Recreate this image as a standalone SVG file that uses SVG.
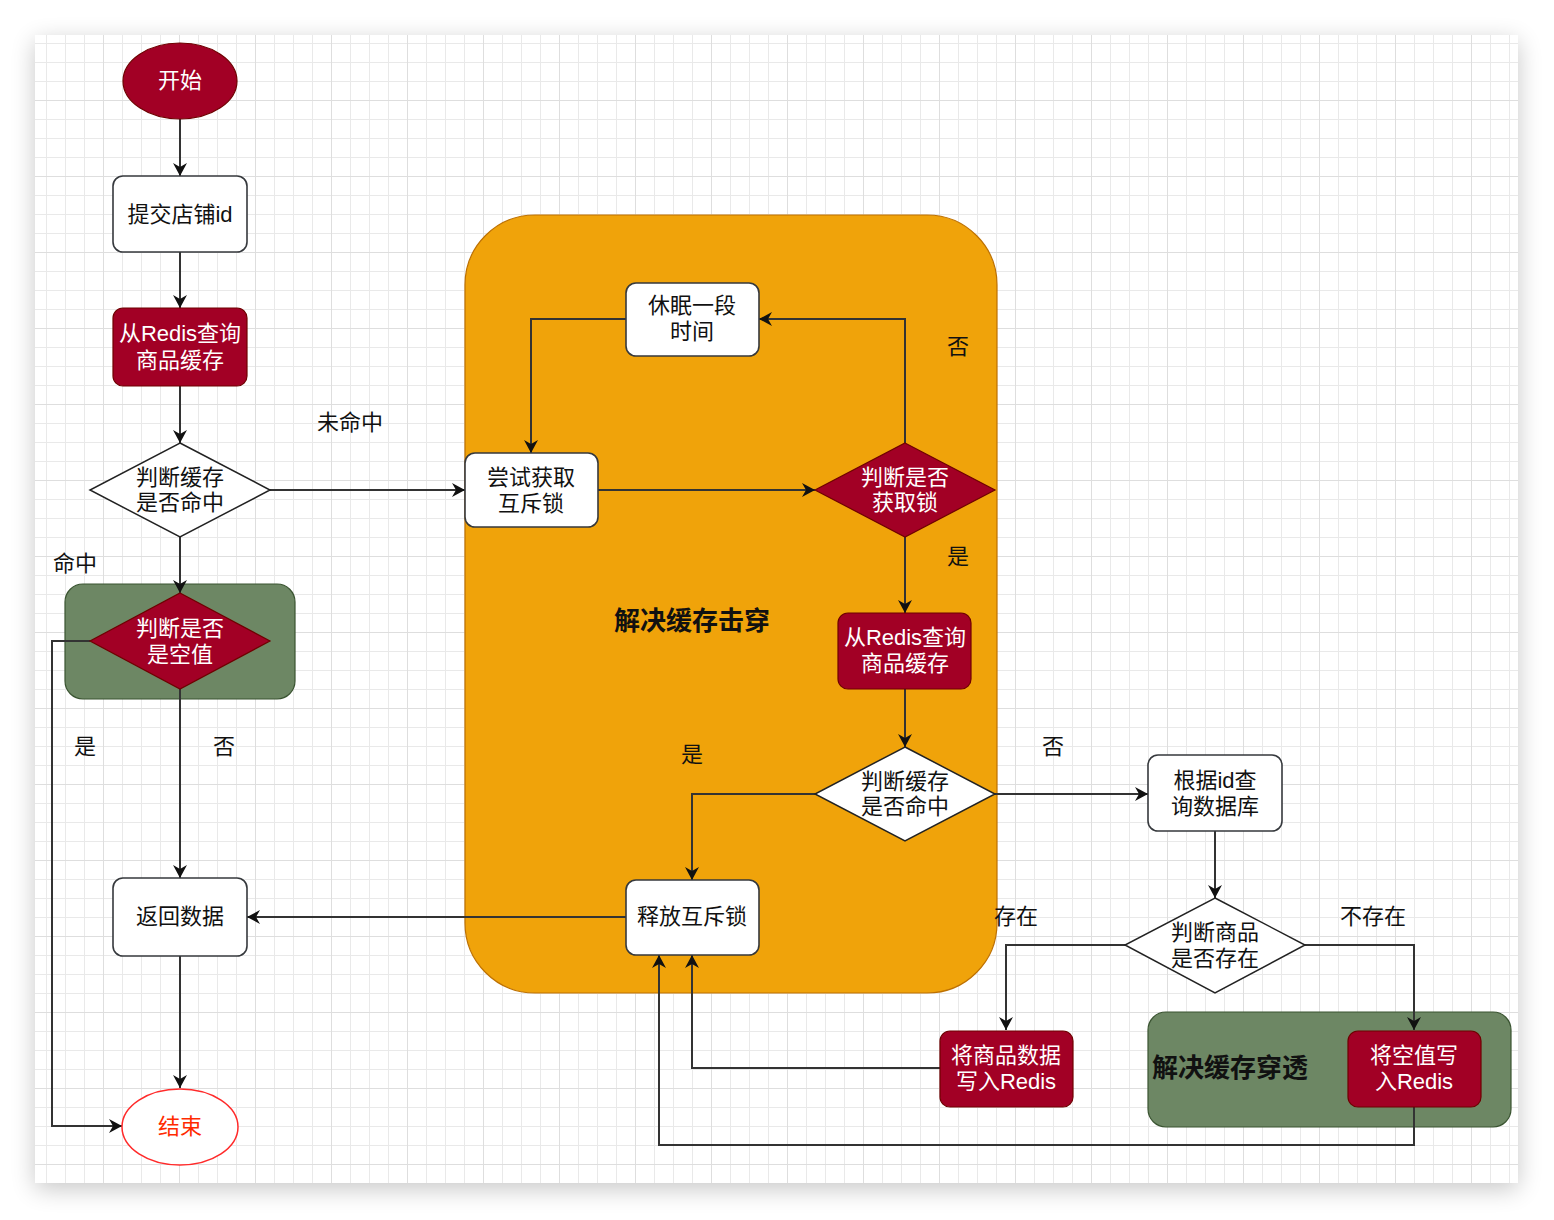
<svg xmlns="http://www.w3.org/2000/svg" width="1554" height="1220" viewBox="0 0 1554 1220">
<style>
text{font-family:"Liberation Sans","Noto Sans CJK SC",sans-serif;font-size:22px;text-anchor:middle;dominant-baseline:central;fill:#111}
.w{fill:#fff}
.b{font-weight:bold;font-size:26px}
.red{fill:#a20025;stroke:#6f0000;stroke-width:1.2}
.wb{fill:#fff;stroke:#36393d;stroke-width:1.6}
.grn{fill:#6d8764;stroke:#3a5431;stroke-width:1.2}
.org{fill:#f0a30a;stroke:#bd7000;stroke-width:1.2}
.e{fill:none;stroke:#333;stroke-width:2;marker-end:url(#arr)}
</style>
<defs>
<marker id="arr" markerWidth="16" markerHeight="16" refX="13" refY="8" orient="auto" markerUnits="userSpaceOnUse" viewBox="0 0 16 16"><path d="M0,1 L13,8 L0,15 L4,8 Z" fill="#111"/></marker>
<pattern id="minor" width="19" height="19" patternUnits="userSpaceOnUse" x="8" y="5"><path d="M0.5,0 V19 M0,0.5 H19" stroke="#e9e9e9" stroke-width="1" fill="none"/></pattern>
<pattern id="major" width="76" height="76" patternUnits="userSpaceOnUse" x="27" y="24"><path d="M0.5,0 V76 M0,0.5 H76" stroke="#dedede" stroke-width="1" fill="none"/></pattern>
<filter id="sh" x="-10%" y="-10%" width="120%" height="120%"><feGaussianBlur stdDeviation="12"/></filter>
</defs>
<rect width="1554" height="1220" fill="#fff"/>
<rect x="35" y="41" width="1483" height="1148" fill="#000" opacity="0.22" filter="url(#sh)"/>
<rect x="35" y="35" width="1483" height="1148" fill="#fff"/>
<rect x="35" y="35" width="1483" height="1148" fill="url(#minor)"/>
<rect x="35" y="35" width="1483" height="1148" fill="url(#major)"/>

<g id="container-jichuan"><rect class="org" x="465" y="215" width="532" height="778" rx="70"/><text class="b" x="692" y="621">解决缓存击穿</text></g>
<g id="container-kongzhi"><rect class="grn" x="65" y="584" width="230" height="115" rx="18"/></g>
<g id="container-chuantou"><rect class="grn" x="1148" y="1012" width="363" height="115" rx="18"/><text class="b" x="1152" y="1068" style="text-anchor:start">解决缓存穿透</text></g>

<g id="edges">
<path class="e" d="M180,119 V176"/>
<path class="e" d="M180,252 V308"/>
<path class="e" d="M180,386 V443"/>
<path class="e" d="M270,490 H465"/>
<path class="e" d="M180,537 V593"/>
<path class="e" d="M180,689 V878"/>
<path class="e" d="M90,641 H52 V1126 H122"/>
<path class="e" d="M180,956 V1088"/>
<path class="e" d="M598,490 H815"/>
<path class="e" d="M905,443 V319 H759"/>
<path class="e" d="M626,319 H531 V453"/>
<path class="e" d="M905,537 V613"/>
<path class="e" d="M905,689 V747"/>
<path class="e" d="M815,794 H692 V880"/>
<path class="e" d="M995,794 H1148"/>
<path class="e" d="M626,917 H247"/>
<path class="e" d="M1215,831 V898"/>
<path class="e" d="M1125,945 H1006 V1030"/>
<path class="e" d="M1305,945 H1414 V1030"/>
<path class="e" d="M940,1068 H692 V955"/>
<path class="e" d="M1414,1107 V1145 H659 V955"/>
</g>

<g id="labels">
<text x="350" y="422">未命中</text>
<text x="75" y="563">命中</text>
<text x="85" y="746">是</text>
<text x="224" y="746">否</text>
<text x="958" y="346">否</text>
<text x="958" y="556">是</text>
<text x="692" y="754">是</text>
<text x="1053" y="746">否</text>
<text x="1016" y="916">存在</text>
<text x="1373" y="916">不存在</text>
</g>

<g id="start"><ellipse class="red" cx="180" cy="81" rx="57" ry="38"/><text class="w" x="180" y="80">开始</text></g>
<g id="submit"><rect class="wb" x="113" y="176" width="134" height="76" rx="10"/><text x="180" y="214">提交店铺id</text></g>
<g id="redis1"><rect class="red" x="113" y="308" width="134" height="78" rx="10"/><text class="w" x="180" y="333">从Redis查询</text><text class="w" x="180" y="360">商品缓存</text></g>
<g id="hit1"><path d="M180,443 L270,490 L180,537 L90,490 Z" fill="#fff" stroke="#222" stroke-width="1.5"/><text x="180" y="477">判断缓存</text><text x="180" y="502">是否命中</text></g>
<g id="isnull"><path class="red" d="M180,593 L270,641 L180,689 L90,641 Z"/><text class="w" x="180" y="628">判断是否</text><text class="w" x="180" y="654">是空值</text></g>
<g id="return"><rect class="wb" x="113" y="878" width="134" height="78" rx="10"/><text x="180" y="916">返回数据</text></g>
<g id="end"><ellipse cx="180" cy="1127" rx="58" ry="38" fill="#fff" stroke="#ff2a2a" stroke-width="1.5"/><text x="180" y="1126" style="fill:#ff2a00">结束</text></g>

<g id="sleep"><rect class="wb" x="626" y="283" width="133" height="73" rx="10"/><text x="692" y="305">休眠一段</text><text x="692" y="331">时间</text></g>
<g id="trylock"><rect class="wb" x="465" y="453" width="133" height="74" rx="10"/><text x="531" y="477">尝试获取</text><text x="531" y="503">互斥锁</text></g>
<g id="gotlock"><path class="red" d="M905,443 L995,490 L905,537 L815,490 Z"/><text class="w" x="905" y="477">判断是否</text><text class="w" x="905" y="502">获取锁</text></g>
<g id="redis2"><rect class="red" x="838" y="613" width="133" height="76" rx="10"/><text class="w" x="905" y="637">从Redis查询</text><text class="w" x="905" y="663">商品缓存</text></g>
<g id="hit2"><path d="M905,747 L995,794 L905,841 L815,794 Z" fill="#fff" stroke="#222" stroke-width="1.5"/><text x="905" y="781">判断缓存</text><text x="905" y="806">是否命中</text></g>
<g id="unlock"><rect class="wb" x="626" y="880" width="133" height="75" rx="10"/><text x="692" y="916">释放互斥锁</text></g>
<g id="querydb"><rect class="wb" x="1148" y="755" width="134" height="76" rx="10"/><text x="1215" y="780">根据id查</text><text x="1215" y="806">询数据库</text></g>
<g id="exists"><path d="M1215,898 L1305,945 L1215,993 L1125,945 Z" fill="#fff" stroke="#222" stroke-width="1.5"/><text x="1215" y="932">判断商品</text><text x="1215" y="958">是否存在</text></g>
<g id="writedata"><rect class="red" x="940" y="1031" width="133" height="76" rx="10"/><text class="w" x="1006" y="1055">将商品数据</text><text class="w" x="1006" y="1081">写入Redis</text></g>
<g id="writenull"><rect class="red" x="1348" y="1031" width="133" height="76" rx="10"/><text class="w" x="1414" y="1055">将空值写</text><text class="w" x="1414" y="1081">入Redis</text></g>
</svg>
